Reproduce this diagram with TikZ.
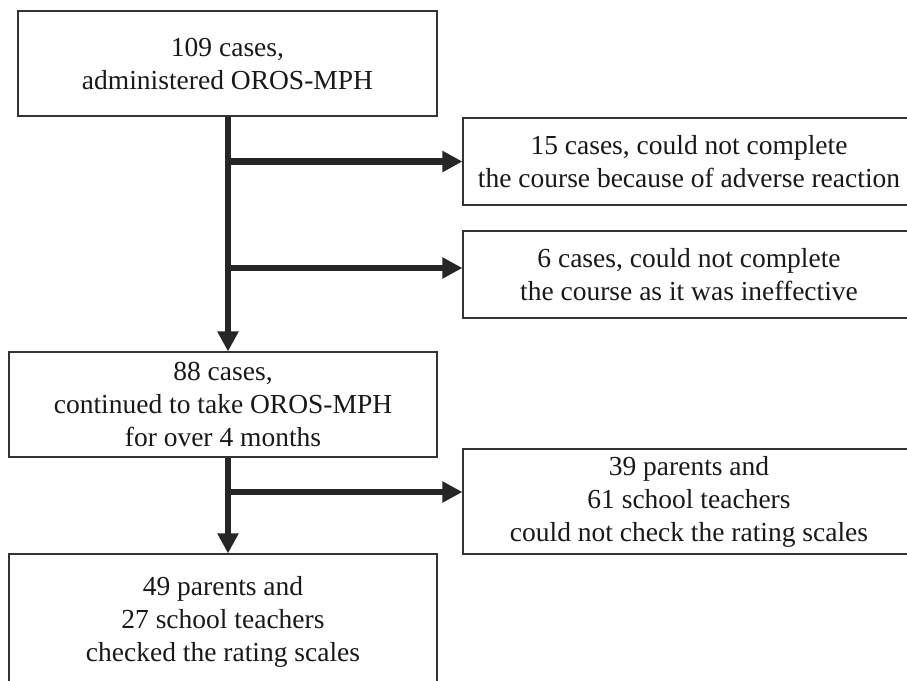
\documentclass[tikz,border=0pt]{standalone}
\usepackage{fontspec}
\setmainfont{Liberation Serif}
\usetikzlibrary{arrows.meta}
\tikzset{
  box/.style={draw=black!80, line width=1.1pt, fill=white, inner sep=0pt, align=center,
    font=\fontsize{27.5}{33}\selectfont, text=black!90},
  flow/.style={draw=black!85, line width=6.5pt,
    -{Triangle[length=20pt,width=20pt]}, shorten >=0pt},
  trunk/.style={draw=black!85, line width=6.5pt}
}
\begin{document}
\begin{tikzpicture}[x=1pt,y=-1pt]
\useasboundingbox (0,0) rectangle (907,680);
\clip (0,0) rectangle (907,680);
\fill[white] (0,0) rectangle (907,680);

\node[box, minimum width=419pt, minimum height=105pt] (b1) at (227.5,63.5)
  {109 cases,\\administered OROS-MPH};
\node[box, minimum width=452pt, minimum height=87pt] (b2) at (689,161.5)
  {15 cases, could not complete\\the course because of adverse reaction};
\node[box, minimum width=452pt, minimum height=87pt] (b3) at (689,274.5)
  {6 cases, could not complete\\the course as it was ineffective};
\node[box, minimum width=428pt, minimum height=105pt] (b4) at (223,404.5)
  {88 cases,\\continued to take OROS-MPH\\for over 4 months};
\node[box, minimum width=452pt, minimum height=105pt] (b5) at (689,501.5)
  {39 parents and\\61 school teachers\\could not check the rating scales};
\node[box, minimum width=428pt, minimum height=136pt] (b6) at (223,622)
  {49 parents and\\27 school teachers\\checked the rating scales};

% trunk coordinates (x of the main vertical line)
\coordinate (t1) at ([xshift=0.5pt]b1.south);
\coordinate (t2) at (t1 |- b4.south);

\draw[flow] (t1) -- (t1 |- b4.north);
\draw[flow] (t1 |- b2.west) -- (b2.west);
\draw[flow] (t1 |- 0,268) -- (b3.west |- 0,268);
\draw[flow] (t2) -- (t2 |- b6.north);
\draw[flow] (t2 |- 0,492) -- (b5.west |- 0,492);
\end{tikzpicture}
\end{document}
